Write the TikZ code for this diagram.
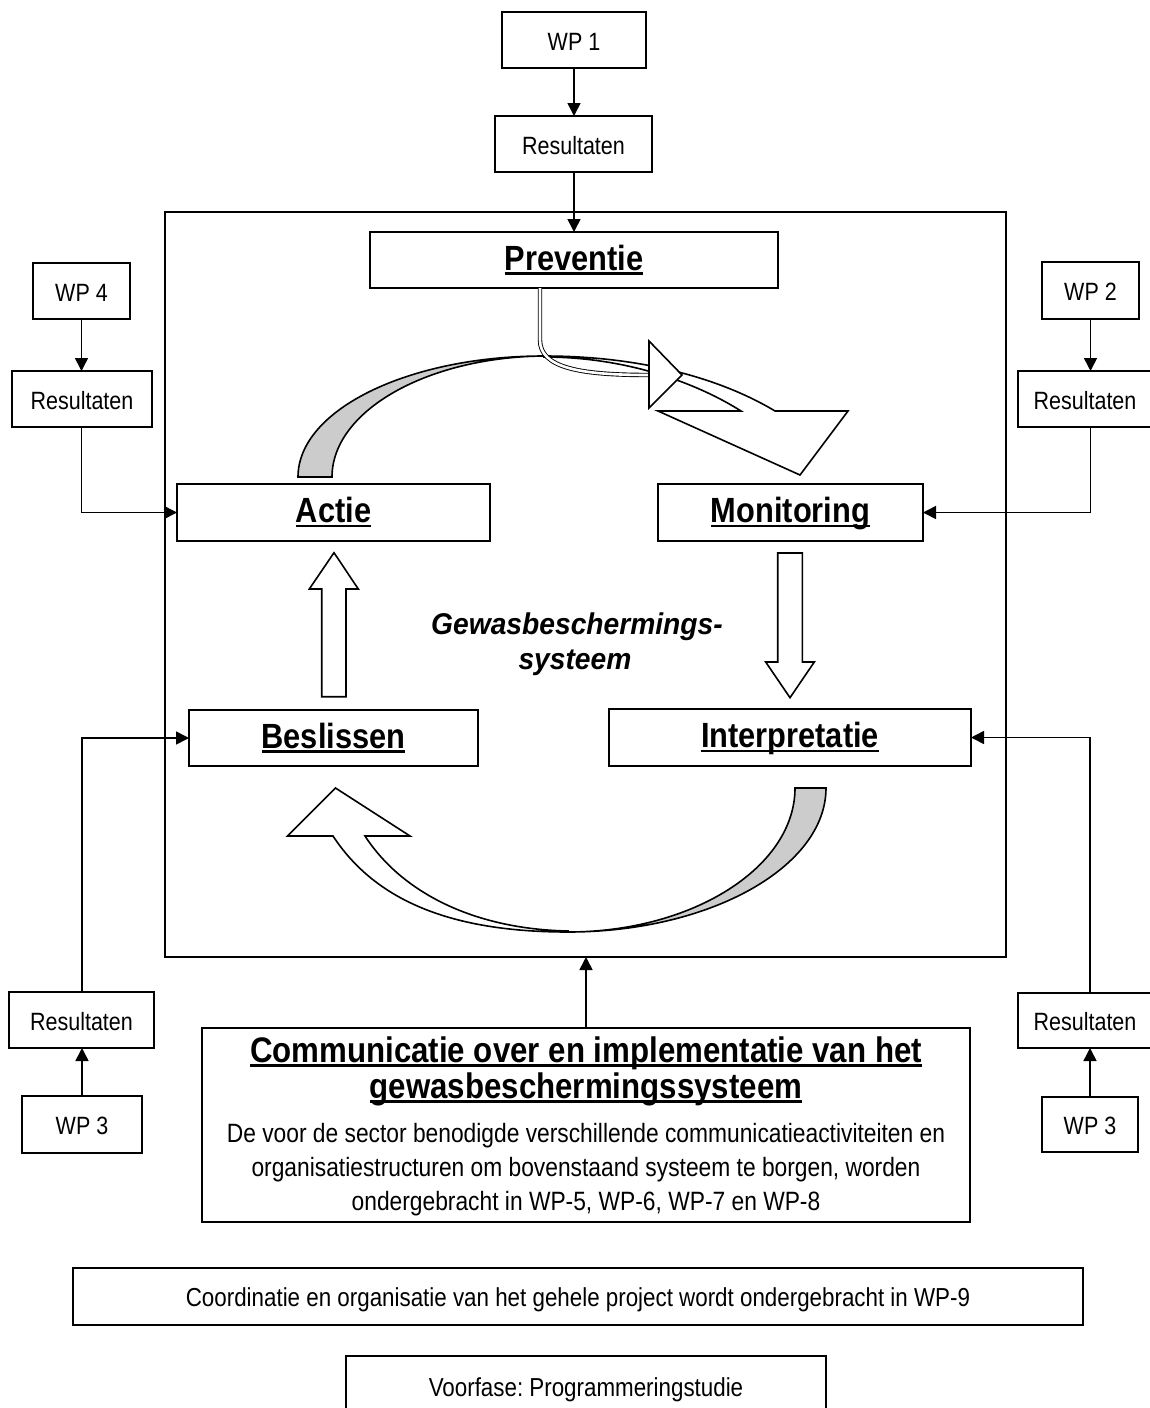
\documentclass[tikz,border=0pt]{standalone}
\usepackage{fontspec}
\setmainfont{Liberation Sans}
\newfontfamily\rf{Liberation Sans}[FakeStretch=0.86]
\newfontfamily\bn{Liberation Sans}[FakeStretch=0.88]
\newfontfamily\gewf{Liberation Sans}[FakeStretch=0.94]
\usetikzlibrary{arrows.meta,calc}
\frenchspacing
\newcommand{\myul}[1]{\setbox0=\hbox{#1}\leavevmode\rlap{\vrule height -0.07em depth 0.13em width \wd0}\box0}
\tikzset{
  box/.style={draw, line width=1.6pt, fill=white, inner sep=0pt, outer sep=0pt, align=center},
  sm/.style={box, font=\rf\fontsize{25}{30}\selectfont, text height=20pt, text depth=0pt},
  lg/.style={box, font=\rf\fontsize{26}{30}\selectfont, text height=20pt, text depth=0pt},
  lab/.style={box, font=\bn\bfseries\fontsize{35}{42}\selectfont, text height=26pt, text depth=6pt},
  conn/.style={line width=1.6pt, -{Triangle[length=13pt,width=13pt]}},
  blk/.style={draw, line width=1.6pt, fill=white, line join=miter},
  shaded/.style={draw, line width=1.6pt, fill=gray!40, line join=miter},
  hd/.style={inner sep=0pt, anchor=base, font=\bn\bfseries\fontsize{35.5}{40}\selectfont},
  bd/.style={inner sep=0pt, anchor=base, font=\rf\fontsize{26.5}{32}\selectfont},
  gw/.style={inner sep=0pt, anchor=base, font=\gewf\bfseries\itshape\fontsize{30}{36}\selectfont},
}
\begin{document}
\begin{tikzpicture}[x=1pt,y=-1pt]
\useasboundingbox (0,0) rectangle (1149,1408);
\fill[white] (0,0) rectangle (1149,1408);

% main frame
\node[draw, line width=1.6pt, minimum width=841pt, minimum height=745pt, inner sep=0pt, outer sep=0pt] (main) at (585.5,584.5) {};

% inner boxes
\node[lab, minimum width=408pt, minimum height=56pt] (prev) at (574,260) {\myul{Preventie}};
\node[lab, minimum width=313pt, minimum height=57pt] (actie) at (333.5,512.5) {\myul{Actie}};
\node[lab, minimum width=265pt, minimum height=57pt] (moni) at (790.5,512.5) {\myul{Monitoring}};
\node[lab, minimum width=289pt, minimum height=56pt] (besl) at (333.5,738) {\myul{Beslissen}};
\node[lab, minimum width=362pt, minimum height=57pt] (interp) at (790,737.5) {\myul{Interpretatie}};

% centre label
\node[gw] (gew1) at (577,634) {Gewasbeschermings-};
\node[gw] (gew2) at (575,669) {systeem};

% top curved arrow (Actie -> Monitoring)
\path[shaded] (298,477) .. controls (298,410) and (408,356) .. (544,356)
  .. controls (427,357) and (332,411) .. (332,477) -- cycle;
\path[blk] (544,356) .. controls (640,356) and (720,378) .. (775,411)
  -- (848,411) -- (800,475) -- (658,411) -- (741,411)
  .. controls (700,385) and (630,357) .. (544,357) -- cycle;

% double line from Preventie
\draw[line width=0.9pt, double=white, double distance=2.6pt]
  ([xshift=-34pt]prev.south) -- (540,340) .. controls (540,368) and (580,375) .. (649,375);
\path[blk] (649,341) -- (682,375) -- (649,408) -- cycle;

% bottom curved arrow (Interpretatie -> Beslissen)
\path[shaded] (795,788) -- (826,788) .. controls (826,867) and (710,932) .. (568,932)
  .. controls (693,932) and (795,867) .. (795,788) -- cycle;
\path[blk] (568,932) .. controls (450,932) and (375,900) .. (333,836)
  -- (287.5,836) -- (335.5,788) -- (410,836) -- (365,836)
  .. controls (400,890) and (470,929) .. (568,931) -- cycle;

% straight block arrows
\path[blk] (777.7,553) -- (802.3,553) -- (802.3,662) -- (814.3,662) -- (790,697.7)
  -- (765.7,662) -- (777.7,662) -- cycle;
\path[blk] (321.7,696.7) -- (346,696.7) -- (346,589) -- (358.3,589) -- (334,552.7)
  -- (309.3,589) -- (321.7,589) -- cycle;

% outer boxes
\node[sm, minimum width=144pt, minimum height=56pt] (wp1) at (574,40) {WP 1};
\node[sm, minimum width=157pt, minimum height=56pt] (res1) at (573.5,144) {Resultaten};
\node[sm, minimum width=97pt, minimum height=56pt] (wp4) at (81.5,291) {WP 4};
\node[sm, minimum width=140pt, minimum height=56pt] (res4) at (82,399) {Resultaten};
\node[sm, minimum width=97pt, minimum height=57pt] (wp2) at (1090.5,290.5) {WP 2};
\node[sm, minimum width=134pt, minimum height=56pt] (res2) at (1085,399) {Resultaten};
\node[sm, minimum width=145pt, minimum height=56pt] (res3l) at (81.5,1020) {Resultaten};
\node[sm, minimum width=120pt, minimum height=57pt] (wp3l) at (82,1124.5) {WP 3};
\node[sm, minimum width=134pt, minimum height=55pt] (res3r) at (1085,1020.5) {Resultaten};
\node[sm, minimum width=96pt, minimum height=55pt] (wp3r) at (1090,1124.5) {WP 3};

% communication box
\node[box, minimum width=768pt, minimum height=194pt] (comm) at (586,1125) {};
\node[hd] (commh1) at (586,1062) {\myul{Communicatie over en implementatie van het}};
\node[hd] (commh2) at (586,1098) {\myul{gewasbeschermingssysteem}};
\node[bd] (commb1) at (586,1142) {De voor de sector benodigde verschillende communicatieactiviteiten en};
\node[bd] (commb2) at (586,1176) {organisatiestructuren om bovenstaand systeem te borgen, worden};
\node[bd] (commb3) at (586,1210) {ondergebracht in WP-5, WP-6, WP-7 en WP-8};

% bottom boxes
\node[lg, minimum width=1010pt, minimum height=57pt] (coord) at (578,1296.5) {Coordinatie en organisatie van het gehele project wordt ondergebracht in WP-9};
\node[lg, minimum width=480pt, minimum height=60pt] (voor) at (586,1386) {Voorfase: Programmeringstudie};

% connectors
\draw[conn] (wp1.south) -- (wp1.south |- res1.north);
\draw[conn] (wp1.south |- res1.south) -- (wp1.south |- prev.north);
\draw[conn] (wp4.south) -- (wp4.south |- res4.north);
\draw[conn] (wp4.south |- res4.south) |- (actie.west);
\draw[conn] (wp2.south) -- (wp2.south |- res2.north);
\draw[conn] (wp2.south |- res2.south) |- (moni.east);
\draw[conn] (wp3l.north) -- (wp3l.north |- res3l.south);
\draw[conn] (wp3l.north |- res3l.north) |- (besl.west);
\draw[conn] (wp3r.north) -- (wp3r.north |- res3r.south);
\draw[conn] (wp3r.north |- res3r.north) |- (interp.east);
\draw[conn] (comm.north) -- (comm.north |- main.south);
\end{tikzpicture}
\end{document}
